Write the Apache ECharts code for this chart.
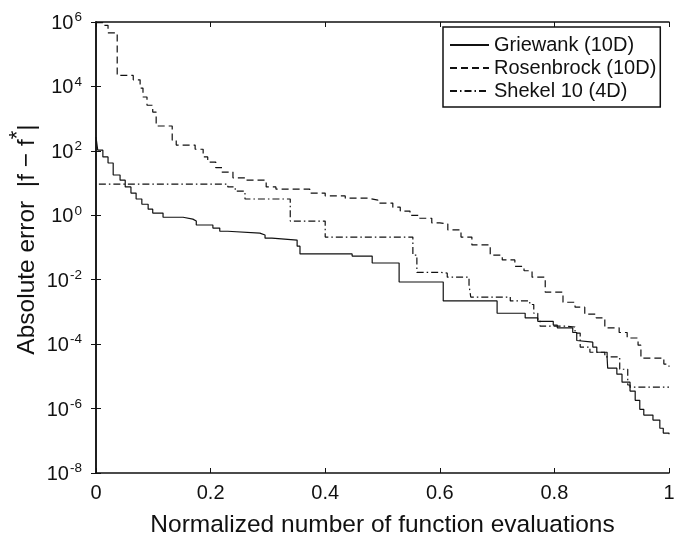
<!DOCTYPE html>
<html>
<head>
<meta charset="utf-8">
<script src="https://cdn.jsdelivr.net/npm/echarts@6/dist/echarts.min.js"></script>
<style>
html,body{margin:0;padding:0;background:#fff;}
#chart{width:676px;height:539px;}
</style>
</head>
<body>
<div id="chart"></div>
<script>
// ---- data ----
const seriesNames = ['Griewank (10D)', 'Rosenbrock (10D)', 'Shekel 10 (4D)'];

const grieX = [0, 0.003, 0.012, 0.021, 0.030, 0.042, 0.051, 0.061, 0.070, 0.080, 0.091, 0.099, 0.117, 0.152, 0.169, 0.175, 0.204, 0.216, 0.230, 0.286, 0.295, 0.307, 0.351, 0.356, 0.447, 0.482, 0.529, 0.606, 0.700, 0.749, 0.771, 0.798, 0.805, 0.832, 0.839, 0.841, 0.867, 0.874, 0.892, 0.893, 0.909, 0.918, 0.932, 0.941, 0.949, 0.956, 0.972, 0.984, 0.990, 1];
const grieY = [270, 105, 65, 42, 17.8, 12.3, 7.6, 4.9, 3.2, 2.2, 1.55, 1.17, 0.87, 0.76, 0.66, 0.5, 0.4, 0.32, 0.28, 0.245, 0.195, 0.17, 0.11, 0.063, 0.054, 0.033, 8.5e-3, 2.2e-3, 9.1e-4, 6.5e-4, 5.1e-4, 3.9e-4, 3.2e-4, 2.3e-4, 1.3e-4, 1.15e-4, 8.1e-5, 5.6e-5, 3.7e-5, 1.8e-5, 1.17e-5, 6.6e-6, 3.5e-6, 1.8e-6, 9.5e-7, 6.3e-7, 4.4e-7, 2.45e-7, 1.74e-7, 1.6e-7];

const rosenX = [0, 0.012, 0.021, 0.037, 0.065, 0.077, 0.082, 0.089, 0.099, 0.105, 0.133, 0.140, 0.173, 0.187, 0.195, 0.209, 0.220, 0.239, 0.262, 0.297, 0.314, 0.373, 0.400, 0.435, 0.475, 0.492, 0.518, 0.531, 0.548, 0.565, 0.586, 0.600, 0.614, 0.637, 0.656, 0.688, 0.709, 0.731, 0.747, 0.761, 0.784, 0.815, 0.836, 0.853, 0.873, 0.888, 0.913, 0.927, 0.946, 0.951, 0.991, 1];
const rosenY = [9.5e5, 7.9e5, 4.6e5, 2.2e4, 1.6e4, 8.9e3, 4.7e3, 2.6e3, 1.6e3, 590, 214, 151, 112, 65, 45, 30, 22, 14.5, 12.3, 7.6, 6.5, 4.9, 4.0, 3.4, 2.95, 2.4, 1.78, 1.35, 1.0, 0.81, 0.58, 0.54, 0.35, 0.21, 0.12, 0.058, 0.041, 0.026, 0.019, 0.012, 4.1e-3, 2.0e-3, 1.4e-3, 8.5e-4, 6.5e-4, 3.2e-4, 2.3e-4, 1.55e-4, 9.3e-5, 3.7e-5, 2.4e-5, 2.0e-5];

const shekX = [0.005, 0.230, 0.243, 0.260, 0.339, 0.400, 0.553, 0.560, 0.600, 0.613, 0.651, 0.654, 0.723, 0.757, 0.764, 0.771, 0.775, 0.819, 0.836, 0.845, 0.862, 0.888, 0.914, 0.928, 0.932, 1];
const shekY = [9.3, 7.6, 5.6, 3.2, 0.66, 0.21, 0.058, 0.017, 0.016, 0.012, 6.8e-3, 2.9e-3, 2.2e-3, 1.7e-3, 9.1e-4, 5.6e-4, 3.6e-4, 3.4e-4, 2.2e-4, 8.1e-5, 5.6e-5, 4.0e-5, 1.66e-5, 5.4e-6, 4.6e-6, 4.6e-6];

const xTicks = [0, 0.2, 0.4, 0.6, 0.8, 1];
const yMin = 1e-8, yMax = 1e6;
const xTitle = 'Normalized number of function evaluations';

// ---- build ----
const FONT = '"Liberation Sans", Arial, Helvetica, sans-serif';
const zip = (xs, ys) => xs.map((x, i) => [x, ys[i]]);

const chart = echarts.init(document.getElementById('chart'), null, {renderer: 'canvas'});

const axisLine = {show: true, lineStyle: {color: '#111', width: 1.5}};
const tickIn = {show: true, inside: true, length: 5, lineStyle: {color: '#111', width: 1}};

const option = {
  animation: false,
  backgroundColor: '#fff',
  textStyle: {fontFamily: FONT},
  grid: {left: 96, top: 22, right: 7, bottom: 66, containLabel: false, outerBoundsMode: 'none'},
  legend: {
    orient: 'vertical',
    left: 443, top: 27,
    padding: [8, 4, 6, 6],
    itemGap: 3,
    itemWidth: 39, itemHeight: 20,
    backgroundColor: '#fff',
    borderColor: '#111', borderWidth: 1.5, borderRadius: 0,
    itemStyle: {opacity: 0},
    textStyle: {fontFamily: FONT, fontSize: 20, color: '#111', lineHeight: 20},
    data: seriesNames
  },
  xAxis: [{
    type: 'value', min: 0, max: 1, interval: 0.2,
    position: 'bottom',
    axisLine: axisLine, axisTick: tickIn,
    splitLine: {show: false},
    axisLabel: {fontFamily: FONT, fontSize: 20, color: '#111', margin: 10,
      formatter: v => { const t = xTicks.find(k => Math.abs(k - v) < 1e-9); return t === undefined ? '' : String(t); }},
    name: xTitle, nameLocation: 'middle', nameGap: 40, nameMoveOverlap: false,
    nameTextStyle: {fontFamily: FONT, fontSize: 24.5, color: '#111'}
  }, {
    type: 'value', min: 0, max: 1, interval: 0.2,
    position: 'top',
    axisLine: axisLine, axisTick: tickIn,
    splitLine: {show: false}, axisLabel: {show: false}
  }],
  yAxis: [{
    type: 'log', logBase: 10, min: yMin, max: yMax, interval: 2,
    position: 'left',
    axisLine: axisLine, axisTick: tickIn,
    minorTick: {show: false},
    splitLine: {show: false},
    axisLabel: {
      fontFamily: FONT, fontSize: 20, color: '#111', margin: 14,
      formatter: v => '{b|10}{e|' + Math.round(Math.log10(v)) + '}',
      rich: {
        b: {fontFamily: FONT, fontSize: 20, color: '#111', verticalAlign: 'bottom', lineHeight: 23},
        e: {fontFamily: FONT, fontSize: 13.5, color: '#111', verticalAlign: 'top', lineHeight: 13, padding: [0, 0, 0, 1]}
      }
    },
    name: 'Absolute error  |f − f{s|*}|', nameLocation: 'middle', nameGap: 49, nameMoveOverlap: false,
    nameTextStyle: {
      fontFamily: FONT, fontSize: 24.5, color: '#111', lineHeight: 40,
      padding: [0, 0, 0, 16],
      rich: {
        s: {fontFamily: FONT, fontSize: 22, color: '#111', verticalAlign: 'top', lineHeight: 14}
      }
    }
  }, {
    type: 'log', logBase: 10, min: yMin, max: yMax, interval: 2,
    position: 'right',
    axisLine: axisLine, axisTick: tickIn,
    splitLine: {show: false}, axisLabel: {show: false}
  }],
  series: [
    {name: seriesNames[0], type: 'line', step: 'end', symbol: 'none', xAxisIndex: 0, yAxisIndex: 0,
     lineStyle: {color: '#111', width: 1.2, type: 'solid'}, itemStyle: {color: '#111'},
     data: zip(grieX, grieY)},
    {name: seriesNames[1], type: 'line', step: 'end', symbol: 'none', xAxisIndex: 0, yAxisIndex: 0,
     lineStyle: {color: '#111', width: 1.2, type: [7, 4]}, itemStyle: {color: '#111'},
     data: zip(rosenX, rosenY)},
    {name: seriesNames[2], type: 'line', step: 'end', symbol: 'none', xAxisIndex: 0, yAxisIndex: 0,
     lineStyle: {color: '#111', width: 1.2, type: [7, 3, 1.5, 3]}, itemStyle: {color: '#111'},
     data: zip(shekX, shekY)}
  ]
};
chart.setOption(option);
</script>
</body>
</html>
